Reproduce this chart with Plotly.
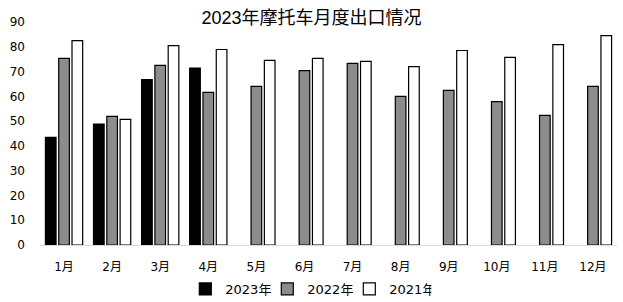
import plotly.graph_objects as go

months = ["1月", "2月", "3月", "4月", "5月", "6月", "7月", "8月", "9月", "10月", "11月", "12月"]
y2023 = [43.4, 48.8, 66.8, 71.4, None, None, None, None, None, None, None, None]
y2022 = [75.3, 51.9, 72.5, 61.6, 64.0, 70.4, 73.3, 60.0, 62.4, 57.9, 52.3, 64.0]
y2021 = [82.5, 50.7, 80.5, 78.9, 74.5, 75.3, 74.1, 72.0, 78.5, 75.7, 80.9, 84.5]
series_names = ["2023年", "2022年", "2021年"]
y_ticks = [0, 10, 20, 30, 40, 50, 60, 70, 80, 90]

font_main = "DejaVu Sans, Noto Sans CJK SC"
fig = go.Figure()
for name, vals, color in zip(series_names, [y2023, y2022, y2021], ["#000000", "#8c8c8c", "#ffffff"]):
    fig.add_trace(go.Bar(
        x=months, y=vals, name=name,
        marker=dict(color=color, line=dict(color="#000000", width=1.2)),
    ))

fig.update_layout(
    width=623, height=302,
    margin=dict(l=40, r=6, t=22, b=57, autoexpand=False),
    paper_bgcolor="white", plot_bgcolor="white",
    barmode="group", bargap=0.17, bargroupgap=0.2,
    title=dict(text="2023年摩托车月度出口情况", x=0.5, xanchor="center", yref="container",
               y=1 - 17.5 / 302, yanchor="middle",
               font=dict(family="Liberation Sans, Noto Sans CJK SC", size=18, color="#000000")),
    font=dict(family=font_main, size=12, color="#000000"),
    showlegend=True,
    legend=dict(orientation="h", x=0.465, xanchor="center", yref="container", y=0.043, yanchor="middle",
                font=dict(family=font_main, size=13, color="#000000"),
                itemwidth=30, entrywidth=37, tracegroupgap=0, traceorder="normal"),
    xaxis=dict(showline=True, linecolor="#d9d9d9", linewidth=1, ticks="", showgrid=False,
               tickfont=dict(family=font_main, size=12), ticklabelstandoff=11),
    yaxis=dict(range=[0, 90], tickvals=y_ticks, showgrid=False, zeroline=False, showline=False,
               tickfont=dict(family=font_main, size=12), ticklabelstandoff=14),
)

fig.write_html("out.html")
